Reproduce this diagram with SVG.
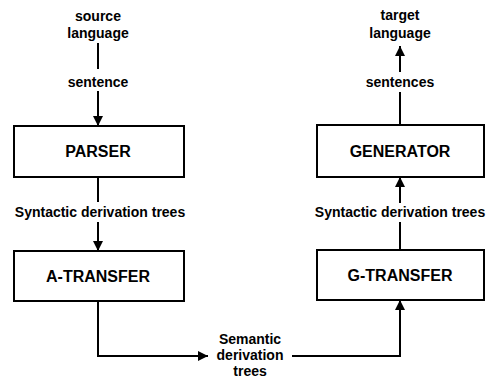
<svg xmlns="http://www.w3.org/2000/svg" width="492" height="381" viewBox="0 0 492 381">
<style>
  .box { fill: #fff; stroke: #000; stroke-width: 2; }
  .title { font-family: "Liberation Sans", Arial, sans-serif; font-weight: bold; font-size: 16px; text-anchor: middle; fill: #000; }
  .lbl { font-family: "Liberation Sans", Arial, sans-serif; font-weight: bold; font-size: 14px; text-anchor: middle; fill: #000; }
  .edge { fill: none; stroke: #000; stroke-width: 2; }
</style>
<defs>
  <marker id="arr" viewBox="0 0 10 10" refX="10" refY="5" markerWidth="5" markerHeight="5" orient="auto" markerUnits="strokeWidth">
    <path d="M0,0 L10,5 L0,10 z" fill="#000"/>
  </marker>
</defs>
<rect width="492" height="381" fill="#fff"/>
<g id="connectors">
  <line class="edge" x1="98" y1="43" x2="98" y2="69"/>
  <line class="edge" x1="98" y1="91" x2="98" y2="126" marker-end="url(#arr)"/>
  <line class="edge" x1="98" y1="177" x2="98" y2="202"/>
  <line class="edge" x1="98" y1="222" x2="98" y2="251" marker-end="url(#arr)"/>
  <polyline class="edge" points="98,301 98,356 208,356" marker-end="url(#arr)"/>
  <polyline class="edge" points="292,356 400,356 400,300" marker-end="url(#arr)"/>
  <line class="edge" x1="400" y1="250" x2="400" y2="222"/>
  <line class="edge" x1="400" y1="203" x2="400" y2="177" marker-end="url(#arr)"/>
  <line class="edge" x1="400" y1="125" x2="400" y2="92"/>
  <line class="edge" x1="400" y1="72" x2="400" y2="46" marker-end="url(#arr)"/>
</g>
<g id="labels">
  <text class="lbl" x="98" y="21">source</text>
  <text class="lbl" x="98" y="38">language</text>
  <text class="lbl" x="98" y="87">sentence</text>
  <text class="lbl" x="100" y="217">Syntactic derivation trees</text>
  <text class="lbl" x="250" y="344">Semantic</text>
  <text class="lbl" x="250" y="360">derivation</text>
  <text class="lbl" x="250" y="376">trees</text>
  <text class="lbl" x="400" y="217">Syntactic derivation trees</text>
  <text class="lbl" x="400" y="87">sentences</text>
  <text class="lbl" x="400" y="20">target</text>
  <text class="lbl" x="400" y="38">language</text>
</g>
<g id="parser">
  <rect class="box" x="14" y="126" width="170" height="51"/>
  <text class="title" x="98" y="157">PARSER</text>
</g>
<g id="a-transfer">
  <rect class="box" x="14" y="251" width="170" height="50"/>
  <text class="title" x="98" y="282">A-TRANSFER</text>
</g>
<g id="generator">
  <rect class="box" x="317" y="125" width="167" height="52"/>
  <text class="title" x="400" y="157">GENERATOR</text>
</g>
<g id="g-transfer">
  <rect class="box" x="317" y="250" width="167" height="50"/>
  <text class="title" x="400" y="281">G-TRANSFER</text>
</g>
</svg>
